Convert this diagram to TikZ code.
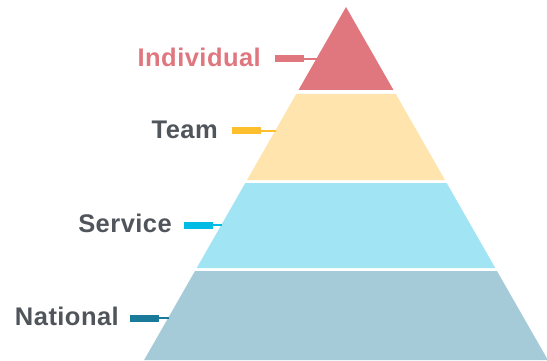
\documentclass[tikz,border=0pt]{standalone}
\usepackage{fontspec}
\setmainfont{Liberation Sans}
\definecolor{indc}{HTML}{E0767E}
\definecolor{teamc}{HTML}{FFE4AE}
\definecolor{servc}{HTML}{A1E5F5}
\definecolor{natc}{HTML}{A6CBD8}
\definecolor{teambar}{HTML}{FDBF2D}
\definecolor{servbar}{HTML}{00BCE4}
\definecolor{natbar}{HTML}{1A7A9A}
\definecolor{txt}{HTML}{50555C}
\tikzset{
  lbl/.style={anchor=base east, inner sep=0pt, font=\fontsize{25.5}{30}\selectfont\bfseries\addfontfeatures{LetterSpace=1.8}},
  barbox/.style={minimum width=29pt, minimum height=7pt, inner sep=0pt, draw=none},
  tick/.style={line width=2pt},
}
\begin{document}
\begin{tikzpicture}[x=1pt,y=-1pt]
\useasboundingbox (0,0) rectangle (547,361);
% layers
\fill[indc] (346,7) -- (393.5,90) -- (298.5,90) -- cycle;
\fill[teamc] (296.2,94) -- (395.8,94) -- (445.0,180) -- (247.0,180) -- cycle;
\fill[servc] (245.3,183) -- (446.7,183) -- (495.3,268) -- (196.7,268) -- cycle;
\fill[natc] (195.0,271) -- (497.0,271) -- (547.9,360) -- (144.1,360) -- cycle;
% edge points
\coordinate (indedge) at (317.3,59);
\coordinate (teamedge) at (276.1,131);
\coordinate (servedge) at (222.3,225);
\coordinate (natedge) at (169.1,318);
% labels
\node[lbl, text=indc] (ind) at (261,67) {Individual};
\node[lbl, text=txt] (team) at (218,139) {Team};
\node[lbl, text=txt] (serv) at (172,232) {Service};
\node[lbl, text=txt] (nat) at (119,325) {National};
% markers
\node[barbox, fill=indc] (indbar) at (289.5,59) {};
\node[barbox, fill=teambar] (teambarn) at (246,131) {};
\node[barbox, fill=servbar] (servbarn) at (198.5,225) {};
\node[barbox, fill=natbar] (natbarn) at (144,318) {};
\draw[tick, indc] (indbar.east) -- (indedge);
\draw[tick, teambar] (teambarn.east) -- (teamedge);
\draw[tick, servbar] (servbarn.east) -- (servedge);
\draw[tick, natbar] (natbarn.east) -- (natedge);
\end{tikzpicture}
\end{document}
